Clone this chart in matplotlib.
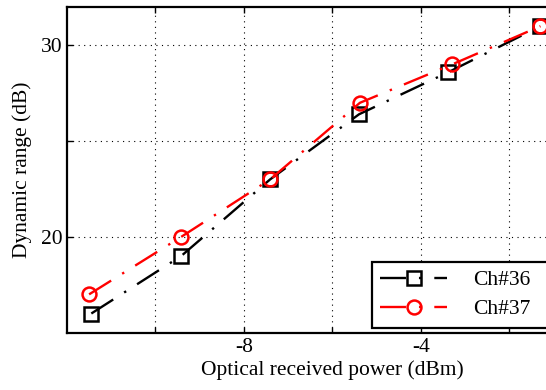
import matplotlib
matplotlib.use('Agg')
import matplotlib.pyplot as plt
from matplotlib.patches import Rectangle

# values
power_36 = [-11.45, -9.42, -7.41, -5.40, -3.38, -1.30]
range_36 = [16.0, 19.0, 23.0, 26.4, 28.6, 31.0]
power_37 = [-11.50, -9.42, -7.41, -5.38, -3.30, -1.30]
range_37 = [17.0, 20.0, 23.0, 27.0, 29.0, 31.0]

x_ticks = [-10, -8, -6, -4, -2]
x_tick_labels = ['', '-8', '', '-4', '']
y_ticks = [20, 25, 30]
y_tick_labels = ['20', '', '30']

def main():
    plt.rcParams['font.family'] = ['Liberation Serif', 'DejaVu Serif']
    plt.rcParams['font.size'] = 15.5

    fig = plt.figure(figsize=(5.46, 3.90), dpi=100)
    # axes runs past the right edge of the image, like the cropped original
    ax = fig.add_axes([0.1227, 0.1470, 0.9725, 0.835])

    ax.plot(power_36, range_36, color='black', lw=1.7,
            dashes=(11.0, 5.5, 1.0, 5.5), marker='s', markersize=10,
            markerfacecolor='none', markeredgewidth=1.8, label='Ch#36')
    ax.plot(power_37, range_37, color='red', lw=1.7,
            dashes=(11.0, 5.5, 1.0, 5.5), marker='o', markersize=10,
            markerfacecolor='none', markeredgewidth=1.8, label='Ch#37')

    ax.set_xlim(-12, 0)
    ax.set_ylim(15, 32)
    ax.set_xticks(x_ticks)
    ax.set_xticklabels(x_tick_labels)
    ax.set_yticks(y_ticks)
    ax.set_yticklabels(y_tick_labels)
    ax.tick_params(direction='in', top=True, right=True, length=4, width=1)
    ax.grid(True, color='black', linestyle=(0, (1, 4)), linewidth=0.8)

    for s in ax.spines.values():
        s.set_linewidth(1.6)

    ax.set_xlabel('Optical received power (dBm)', labelpad=3)
    ax.set_ylabel('Dynamic range (dB)', labelpad=6)

    leg = ax.legend(loc='lower left', bbox_to_anchor=(0.574, 0.015),
                    frameon=False, handlelength=3.1, borderpad=0.4,
                    labelspacing=0.4, handletextpad=1.2, borderaxespad=0)
    leg.set_zorder(6)

    # legend box runs off the cropped right edge, as in the original
    fig.canvas.draw()
    bb = leg.get_window_extent().transformed(ax.transAxes.inverted())
    box = Rectangle((bb.x0, bb.y0), 0.6, bb.height, transform=ax.transAxes,
                    facecolor='white', edgecolor='black', linewidth=1.6,
                    zorder=5, clip_on=False)
    ax.add_patch(box)

    fig.savefig('out.png', dpi=100)

if __name__ == '__main__':
    main()
